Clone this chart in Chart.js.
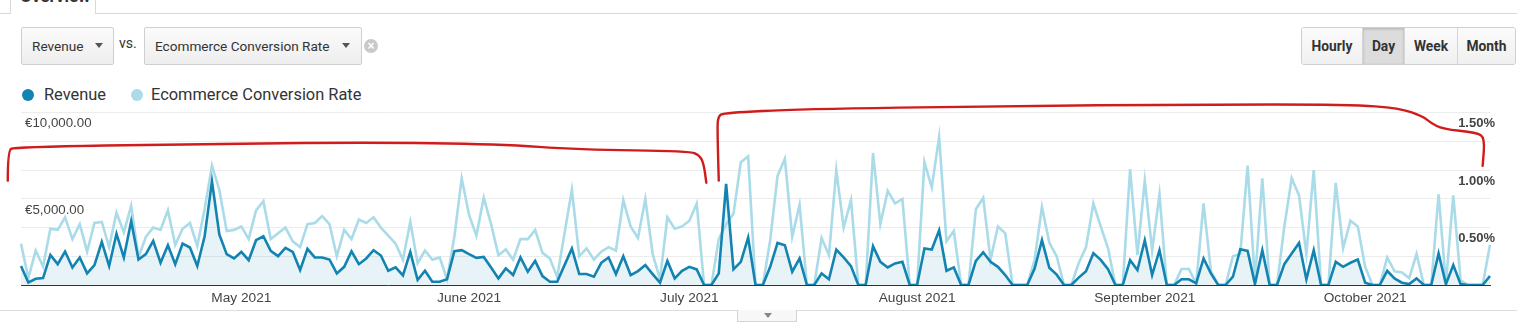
<!DOCTYPE html>
<html>
<head>
<meta charset="utf-8">
<script src="https://cdn.jsdelivr.net/npm/chart.js@4.4.0/dist/chart.umd.min.js"></script>
<style>
  body { margin: 0; width: 1517px; height: 327px; overflow: hidden; background: #fff; font-family: Roboto, Arial, sans-serif; color: #333; position: relative; }
  .tabline { position: absolute; top: 13px; left: 0; width: 1517px; border-top: 1px solid #d9d9d9; }
  .tab { position: absolute; left: 10px; top: -12px; width: 86px; height: 26px; border: 1px solid #d9d9d9; border-bottom: none; background: #fff; box-sizing: border-box; overflow: hidden; }
  .tab span { position: absolute; left: 9px; top: -3px; font-weight: bold; font-size: 17px; color: #333; }
  .dd { position: absolute; top: 27px; height: 38px; box-sizing: border-box; border: 1px solid #cfcfcf; border-radius: 2px; background: linear-gradient(#fbfbfb, #eeeeee); font-size: 13.6px; line-height: 36px; padding-left: 10px; color: #333; }
  .caret { position: absolute; top: 15px; width: 0; height: 0; border-left: 4.5px solid transparent; border-right: 4.5px solid transparent; border-top: 5px solid #555; }
  .vs { position: absolute; left: 119px; top: 35px; font-size: 14px; color: #333; }
  .close { position: absolute; left: 364px; top: 39px; width: 14px; height: 14px; border-radius: 50%; background: #c9c9c9; color: #fff; font: bold 12px/14px Arial, sans-serif; text-align: center; }
  .btns { position: absolute; left: 1301px; top: 27px; height: 38px; display: flex; border: 1px solid #cfcfcf; border-radius: 3px; box-sizing: border-box; overflow: hidden; }
  .btns div { height: 36px; line-height: 36px; font-size: 13.8px; font-weight: bold; text-align: center; background: linear-gradient(#fbfbfb, #f0f0f0); border-left: 1px solid #d6d6d6; box-sizing: border-box; color: #333; }
  .btns div:first-child { border-left: none; }
  .btns div.on { background: #dcdcdc; box-shadow: inset 0 1px 3px rgba(0,0,0,0.2); }
  .legend { position: absolute; top: 85px; left: 22px; font-size: 16.4px; color: #333; }
  .legend .dot { position: absolute; top: 4px; width: 12px; height: 12px; border-radius: 50%; }
  .legend span.t { position: absolute; top: 0; white-space: nowrap; }
  .chart-box { position: absolute; left: 0; top: 100px; width: 1517px; height: 206px; }
  .bottomline { position: absolute; top: 310px; left: 0; width: 1517px; border-top: 1px solid #dcdcdc; }
  .pull { position: absolute; left: 737px; top: 310px; width: 60px; height: 12px; border: 1px solid #d4d4d4; border-top: none; background: #f7f7f7; box-sizing: border-box; }
  .pull .caret { top: 3px; left: 26px; border-top-color: #888; }
</style>
</head>
<body>
<div class="tabline"></div>
<div class="tab"><span>Overview</span></div>

<div class="dd" style="left:21px;width:93px;">Revenue<div class="caret" style="left:73px;"></div></div>
<div class="vs">vs.</div>
<div class="dd" style="left:144px;width:218px;">Ecommerce Conversion Rate<div class="caret" style="left:197px;"></div></div>
<div class="close">×</div>

<div class="btns">
  <div style="width:60px;">Hourly</div>
  <div class="on" style="width:42px;">Day</div>
  <div style="width:53px;">Week</div>
  <div style="width:58px;">Month</div>
</div>

<div class="legend">
  <div class="dot" style="left:0;background:#1384b1;"></div><span class="t" style="left:22px;">Revenue</span>
  <div class="dot" style="left:109px;background:#a9dbe9;"></div><span class="t" style="left:129px;">Ecommerce Conversion Rate</span>
</div>

<div class="chart-box"><canvas id="chart"></canvas></div>
<div class="bottomline"></div>
<div class="pull"><div class="caret"></div></div>

<script>
// daily values, 1 Apr 2021 .. 18 Oct 2021
const START_DATE = Date.UTC(2021, 3, 1);

const revenue = [
  1100, 150, 365, 400, 1750, 1210, 1945, 1020, 1600, 675,
  1155, 2500, 1100, 2980, 1600, 3710, 1480, 1790, 2560, 1290,
  2310, 1210, 2400, 2175, 1100, 2830, 6020, 2940, 1790, 1540,
  1920, 1440, 2600, 2830, 1980, 1675, 2150, 1920, 865, 2095,
  1600, 1600, 1480, 675, 1055, 1960, 1210, 1540, 2020, 1710,
  825, 1020, 560, 1920, 290, 825, 190, 190, 330, 1960,
  2020, 1790, 1575, 1630, 1020, 385, 965, 577, 1600, 770,
  1400, 520, 190, 190, 1155, 2120, 635, 635, 480, 1290,
  1600, 635, 1675, 577, 810, 1155, 635, 135, 1400, 385,
  825, 1055, 905, 0, 0, 675, 5870, 905, 1345, 2750,
  0, 0, 1055, 2440, 2310, 770, 1540, 0, 0, 675,
  330, 2060, 1600, 1100, 0, 0, 2250, 1345, 1020, 1250,
  1345, 0, 0, 2120, 2060, 3175, 825, 1020, 0, 0,
  1400, 1900, 1345, 1055, 577, 0, 0, 0, 960, 2600,
  1000, 600, 0, 0, 430, 800, 1850, 1460, 915, 0,
  0, 1440, 865, 2600, 577, 2020, 0, 0, 330, 330,
  100, 1540, 675, 0, 0, 480, 2080, 1980, 50, 2020,
  0, 0, 1210, 1830, 2440, 330, 2020, 0, 0, 1345,
  1055, 1290, 1480, 135, 0, 0, 825, 385, 135, 50,
  385, 0, 0, 1830, 50, 1155, 50, 0, 0, 0, 520
];

const conversionRate = [
  0.36, 0.06, 0.30, 0.16, 0.49, 0.48, 0.59, 0.40, 0.53, 0.29,
  0.54, 0.55, 0.33, 0.63, 0.46, 0.69, 0.24, 0.42, 0.50, 0.48,
  0.65, 0.35, 0.49, 0.54, 0.34, 0.66, 1.04, 0.83, 0.47, 0.48,
  0.51, 0.40, 0.65, 0.73, 0.40, 0.45, 0.50, 0.38, 0.33, 0.53,
  0.54, 0.60, 0.53, 0.25, 0.48, 0.40, 0.57, 0.54, 0.59, 0.50,
  0.43, 0.36, 0.22, 0.55, 0.19, 0.30, 0.22, 0.24, 0.05, 0.42,
  0.93, 0.61, 0.43, 0.76, 0.53, 0.26, 0.31, 0.22, 0.40, 0.40,
  0.48, 0.28, 0.23, 0.07, 0.45, 0.83, 0.25, 0.32, 0.22, 0.29,
  0.33, 0.30, 0.74, 0.51, 0.41, 0.75, 0.27, 0.05, 0.59, 0.49,
  0.51, 0.56, 0.71, 0, 0, 0.40, 0.53, 0.62, 1.07, 1.12,
  0, 0, 0.39, 0.95, 1.10, 0.42, 0.70, 0, 0, 0.41,
  0.26, 1.00, 0.50, 0.74, 0, 0, 1.15, 0.53, 0.82, 0.71,
  0.75, 0, 0, 1.07, 0.85, 1.29, 0.38, 0.47, 0, 0,
  0.66, 0.76, 0.22, 0.51, 0.45, 0, 0, 0, 0.22, 0.68,
  0.37, 0.25, 0, 0, 0.19, 0.33, 0.71, 0.51, 0.32, 0,
  0, 1.01, 0.26, 0.91, 0.30, 0.79, 0, 0, 0.14, 0.14,
  0.01, 0.71, 0.12, 0, 0, 0.25, 0.27, 1.04, 0.03, 0.93,
  0, 0, 0.51, 0.93, 0.78, 0.27, 1.00, 0, 0, 0.89,
  0.32, 0.56, 0.51, 0.16, 0, 0, 0.24, 0.12, 0.11, 0.06,
  0.27, 0, 0, 0.79, 0.01, 0.78, 0.04, 0, 0, 0, 0.35
];

const revenueTicks = [5000, 10000];
const rateTicks = [0.5, 1.0, 1.5];

// hand-drawn red brackets, as [day index, revenue level]
const markFirstPeriod = [
  [-1.8, 6060], [-1.8, 7790], [-0.9, 8020], [24, 8190], [47, 8280], [65, 8190],
  [76, 7850], [91, 7790], [92.5, 7500], [93, 6920], [93.3, 5940]
];
const markSecondPeriod = [
  [95.0, 6060], [94.8, 8940], [94.9, 9810], [95.8, 10000], [106, 10210], [133, 10390],
  [160, 10480], [181, 10480], [187.7, 10270], [190.8, 9810], [192, 9400], [193.5, 9060],
  [198.2, 8850], [199.3, 8540], [199.0, 6920]
];

const DARK = '#1384b1', LIGHT = '#a9dbe9';

const dates = revenue.map((_, i) => new Date(START_DATE + i * 86400000));
const labels = dates.map(d => d.toISOString().slice(0, 10));

const RedMarksPlugin = {
  id: 'redMarks',
  afterDraw(chart) {
    const { ctx, scales: { x, y } } = chart;
    const toPx = p => [x.getPixelForValue(p[0]), y.getPixelForValue(p[1])];
    ctx.save();
    ctx.strokeStyle = '#cf1d1d';
    ctx.lineWidth = 2.4;
    ctx.lineJoin = 'round';
    ctx.lineCap = 'round';
    [markFirstPeriod, markSecondPeriod].forEach(path => {
      const pts = path.map(toPx);
      ctx.beginPath();
      ctx.moveTo(pts[0][0], pts[0][1]);
      for (let i = 1; i < pts.length - 1; i++) {
        const mx = (pts[i][0] + pts[i + 1][0]) / 2, my = (pts[i][1] + pts[i + 1][1]) / 2;
        ctx.quadraticCurveTo(pts[i][0], pts[i][1], mx, my);
      }
      const last = pts[pts.length - 1];
      ctx.lineTo(last[0], last[1]);
      ctx.stroke();
    });
    ctx.restore();
  }
};

const fmtEuro = v => '€' + v.toLocaleString('en-US', { minimumFractionDigits: 2, maximumFractionDigits: 2 });

new Chart(document.getElementById('chart'), {
  type: 'line',
  data: {
    labels,
    datasets: [
      { label: 'Revenue', data: revenue, yAxisID: 'y', borderColor: DARK, borderWidth: 2.6, backgroundColor: 'rgba(25,133,180,0.1)', fill: 'origin', pointRadius: 0, tension: 0 },
      { label: 'Ecommerce Conversion Rate', data: conversionRate, yAxisID: 'y1', borderColor: LIGHT, borderWidth: 2.6, fill: false, pointRadius: 0, tension: 0 },
    ]
  },
  options: {
    responsive: true, maintainAspectRatio: false, animation: false, events: [],
    layout: { padding: { top: 11.7, left: 21, right: 27, bottom: 0 } },
    plugins: { legend: { display: false }, tooltip: { enabled: false }, filler: { drawTime: 'beforeDatasetsDraw' } },
    scales: {
      x: {
        type: 'category', offset: false,
        grid: { display: false, drawTicks: false },
        border: { display: true, color: '#333', width: 1 },
        ticks: {
          color: '#444', font: { family: 'Arial', size: 13.7 }, maxRotation: 0, minRotation: 0, padding: 5,
          callback: v => dates[v].toLocaleDateString('en-US', { month: 'long', year: 'numeric', timeZone: 'UTC' })
        },
        // month labels only, the first (partial) month is not labelled
        afterBuildTicks: s => { s.ticks = s.ticks.filter(t => t.value > 0 && dates[t.value].getUTCDate() === 1); },
        afterFit: s => { s.height = 21; }
      },
      y: {
        position: 'left', min: 0, max: 10000,
        grid: { display: false }, border: { display: false },
        ticks: {
          stepSize: 5000, mirror: true, padding: 4, labelOffset: 11, color: '#444',
          font: { family: 'Arial', size: 13.3 },
          callback: v => revenueTicks.includes(v) ? fmtEuro(v) : ''
        },
        afterFit: s => { s.width = 0; }
      },
      y1: {
        position: 'right', min: 0, max: 1.5,
        grid: { color: '#ececec', drawTicks: false }, border: { display: false },
        ticks: {
          stepSize: 0.25, mirror: true, padding: 5, labelOffset: 11, color: '#444',
          font: { family: 'Arial', size: 13, weight: 'bold' },
          callback: v => rateTicks.some(r => Math.abs(r - v) < 1e-6) ? v.toFixed(2) + '%' : ''
        },
        afterFit: s => { s.width = 0; }
      }
    }
  },
  plugins: [RedMarksPlugin]
});
</script>
</body>
</html>
